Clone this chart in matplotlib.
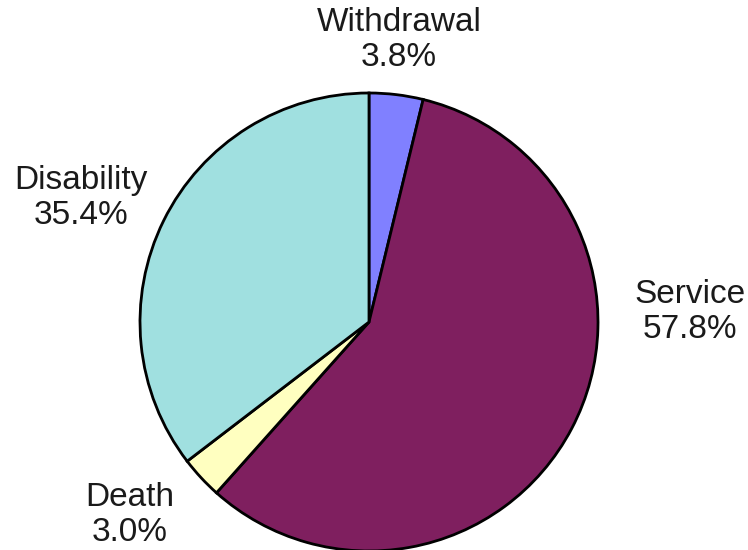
import matplotlib
matplotlib.use("Agg")
import matplotlib.pyplot as plt

categories = ["Withdrawal", "Service", "Death", "Disability"]
values = [3.8, 57.8, 3.0, 35.4]
colors = ["#8080FF", "#7F1F5F", "#FFFFC0", "#A0E0E0"]

W, H = 748, 550
fig = plt.figure(figsize=(W / 100, H / 100), dpi=100)
ax = fig.add_axes([0, 0, 1, 1])

ax.pie(values, colors=colors, startangle=90, counterclock=False,
       center=(369, H - 322), radius=229, frame=True,
       wedgeprops=dict(edgecolor="black", linewidth=2))
ax.set_xlim(0, W)
ax.set_ylim(0, H)
ax.set_aspect("equal")
ax.axis("off")

label_pos = [(399, 40), (690, 312), (130, 515), (81, 198)]
for name, v, (x, y) in zip(categories, values, label_pos):
    ax.text(x, H - y, f"{name}\n{v:.1f}%", ha="center", va="center",
            fontsize=24, family="Liberation Sans", color="#1a1a1a",
            linespacing=1.15)

fig.savefig("out.png", dpi=100)
